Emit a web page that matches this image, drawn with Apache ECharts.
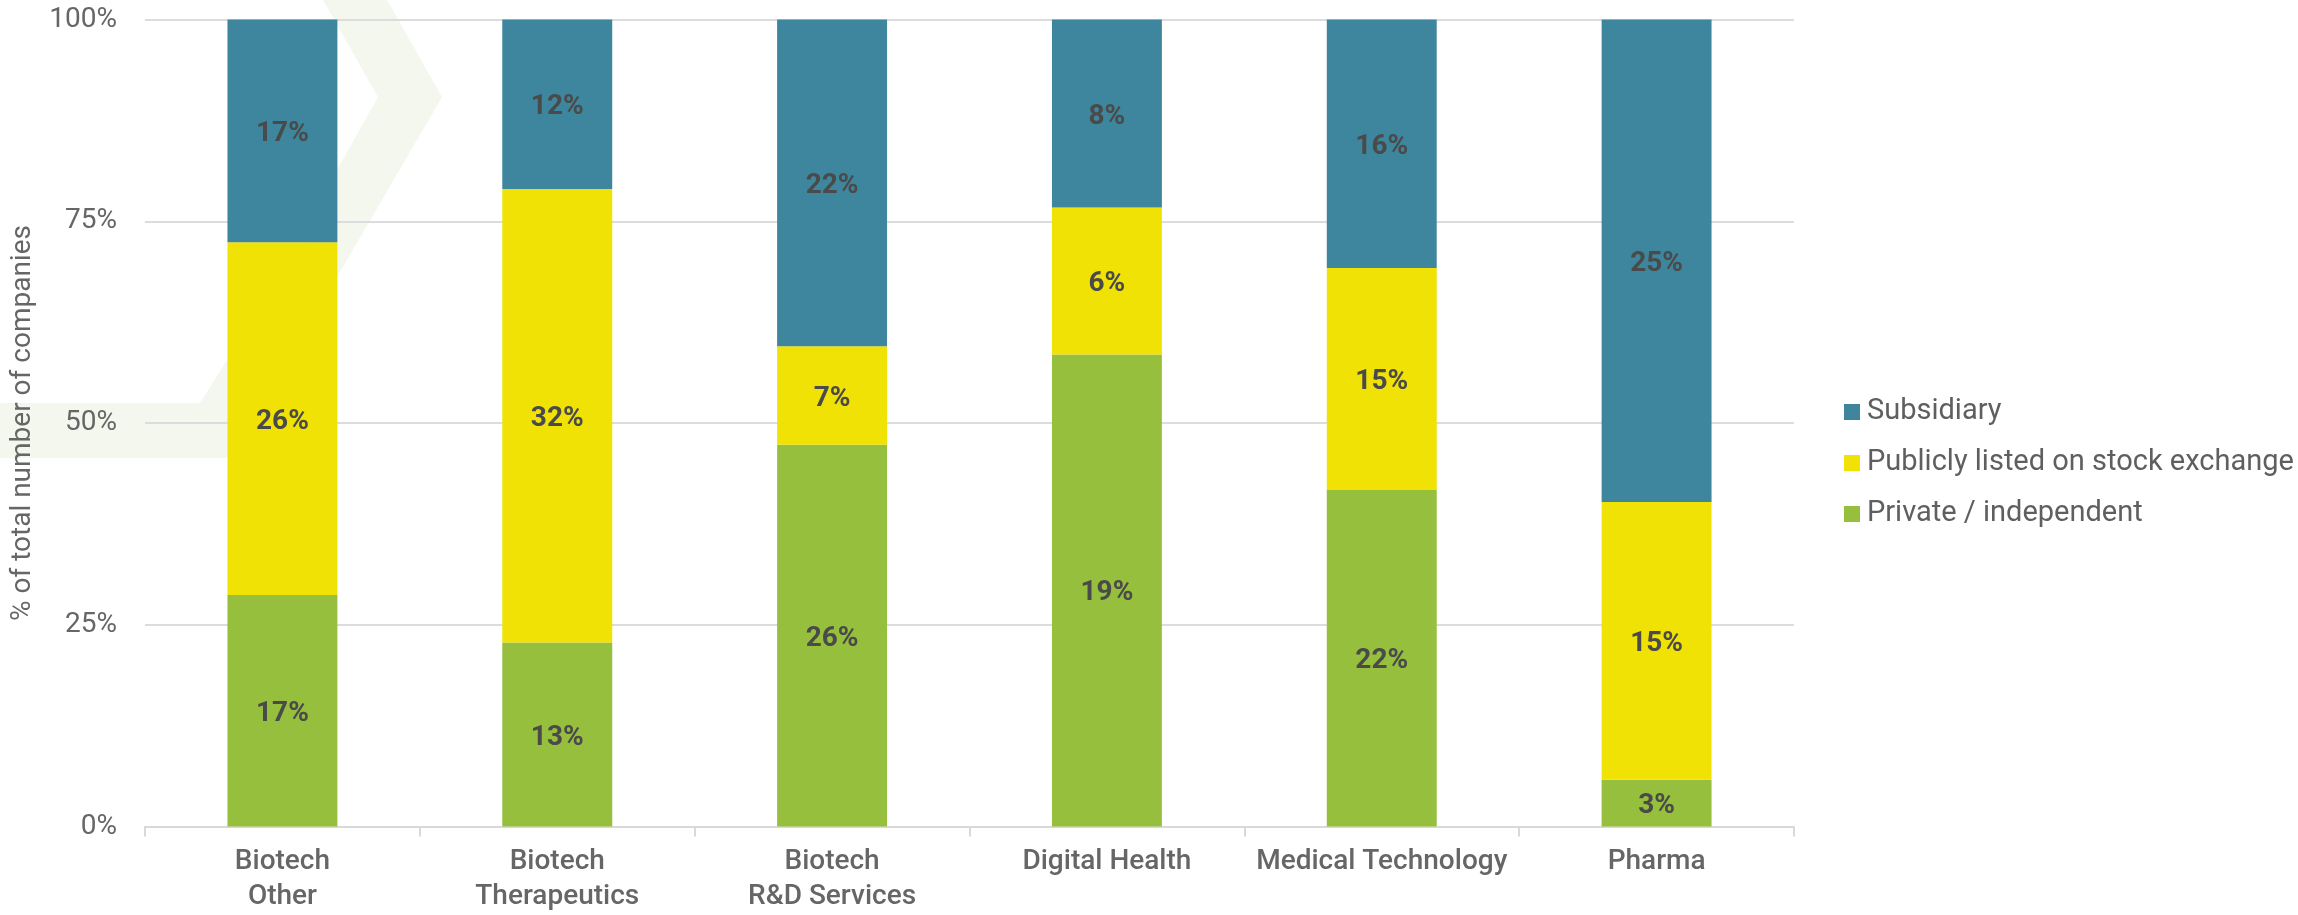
<!DOCTYPE html>
<html>
<head>
<meta charset="utf-8">
<script src="https://cdn.jsdelivr.net/npm/echarts@6/dist/echarts.min.js"></script>
<style>
html,body{margin:0;padding:0;background:#fff;}
#chart{width:2298px;height:915px;}
</style>
</head>
<body>
<div id="chart"></div>
<script>
// Categories (x axis)
const categories = ['Biotech\nOther', 'Biotech\nTherapeutics', 'Biotech\nR&D Services', 'Digital Health', 'Medical Technology', 'Pharma'];
// Segment heights (share of bar, %)
const privateShare    = [28.7, 22.8, 47.3, 58.5, 41.7, 5.8];
const publicShare     = [43.7, 56.2, 12.2, 18.2, 27.5, 34.4];
const subsidiaryShare = [27.6, 21.0, 40.5, 23.3, 30.8, 59.8];
// Printed labels (% of total number of companies)
const privateLabels    = [17, 13, 26, 19, 22, 3];
const publicLabels     = [26, 32, 7, 6, 15, 15];
const subsidiaryLabels = [17, 12, 22, 8, 16, 25];
// Series names
const seriesNames = ['Private / independent', 'Publicly listed on stock exchange', 'Subsidiary'];
// Y axis tick labels
const yTicks = [0, 25, 50, 75, 100];

const colors = {private: '#95bf3c', public: '#f1e206', subsidiary: '#3e869d'};
const font = 'Roboto, "Noto Sans", sans-serif';

function mkSeries(name, data, labels, color) {
  return {
    name: name,
    type: 'bar',
    stack: 'total',
    barWidth: '40%',
    data: data,
    itemStyle: {color: color},
    label: {
      show: true,
      position: 'inside',
      offset: [0, 3],
      formatter: p => labels[p.dataIndex] + '%',
      fontFamily: font,
      fontSize: 28,
      fontWeight: 'bold',
      color: '#4a4a4a'
    },
    emphasis: {disabled: true},
    z: 2
  };
}

const chart = echarts.init(document.getElementById('chart'), null, {renderer: 'canvas'});
chart.setOption({
  animation: false,
  backgroundColor: '#ffffff',
  textStyle: {fontFamily: font},
  graphic: [{
    type: 'polygon',
    z: -10,
    silent: true,
    shape: {points: [[323,0],[387,0],[442,97],[337,277],[227,360],[200,403],[0,403],[0,458],[227,458],[337,170],[378,97]]},
    style: {fill: '#f4f7ee'}
  }],
  grid: {left: 145, right: 504, top: 19.5, bottom: 88.5, containLabel: false},
  legend: {
    orient: 'vertical',
    left: 1839,
    top: 392,
    itemWidth: 16,
    itemHeight: 16,
    itemGap: 21,
    icon: 'rect',
    data: [seriesNames[2], seriesNames[1], seriesNames[0]],
    textStyle: {fontFamily: font, fontSize: 29, color: '#5f5f5f', lineHeight: 30, padding: [0, 0, 0, 2]},
    selectedMode: false
  },
  xAxis: {
    type: 'category',
    data: categories,
    boundaryGap: true,
    axisLine: {show: true, lineStyle: {color: '#d9d9d9', width: 2}},
    axisTick: {show: true, length: 10, lineStyle: {color: '#d9d9d9', width: 2}},
    axisLabel: {
      fontFamily: font, fontSize: 28, fontWeight: 500, color: '#666666',
      lineHeight: 35, margin: 18, interval: 0
    }
  },
  yAxis: {
    type: 'value',
    min: yTicks[0],
    max: yTicks[yTicks.length - 1],
    interval: 25,
    name: '% of total number of companies',
    nameLocation: 'middle',
    nameGap: 108,
    nameTextStyle: {fontFamily: font, fontSize: 28, color: '#666666'},
    axisLine: {show: false},
    axisTick: {show: false},
    splitLine: {show: true, lineStyle: {color: '#dcdcdc', width: 2}},
    axisLabel: {formatter: '{value}%', fontFamily: font, fontSize: 28, color: '#666666', margin: 28}
  },
  series: [
    mkSeries(seriesNames[0], privateShare, privateLabels, colors.private),
    mkSeries(seriesNames[1], publicShare, publicLabels, colors.public),
    mkSeries(seriesNames[2], subsidiaryShare, subsidiaryLabels, colors.subsidiary)
  ]
});
</script>
</body>
</html>
